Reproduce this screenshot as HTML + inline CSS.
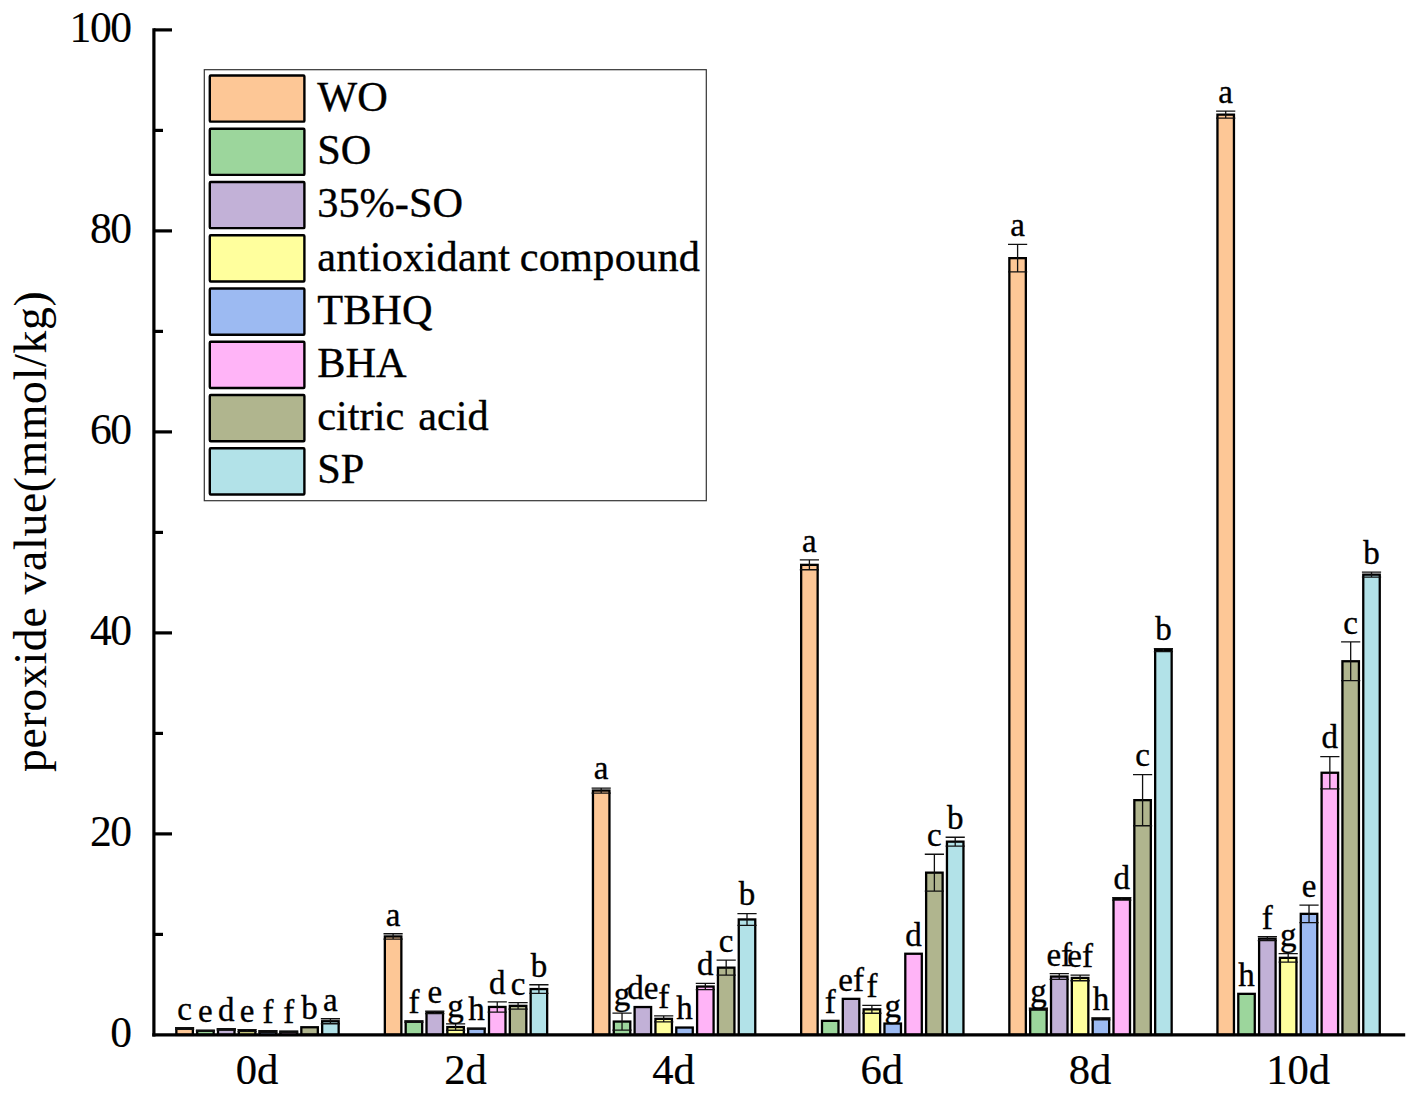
<!DOCTYPE html>
<html><head><meta charset="utf-8"><title>peroxide value</title>
<style>
html,body{margin:0;padding:0;background:#fff;}
body{width:1418px;height:1097px;overflow:hidden;}
svg{display:block;}
text{font-family:"Liberation Serif",serif;fill:#000;stroke:#000;stroke-width:0.35px;}
.yt text{stroke-width:0.12px;}
.xt text{stroke-width:0.2px;}
text.yl{stroke-width:0.1px;}
</style></head><body>
<svg width="1418" height="1097" viewBox="0 0 1418 1097">
<rect x="0" y="0" width="1418" height="1097" fill="#fff"/>
<g stroke="#000" stroke-width="2.3" stroke-linejoin="miter">
<rect x="176.35" y="1028.45" width="16.50" height="6.45" fill="#FDC796"/>
<rect x="197.18" y="1030.75" width="16.50" height="4.15" fill="#9CD69C"/>
<rect x="218.01" y="1029.45" width="16.50" height="5.45" fill="#C2B1D7"/>
<rect x="238.84" y="1030.65" width="16.50" height="4.25" fill="#FFFF9D"/>
<rect x="259.67" y="1031.55" width="16.50" height="3.35" fill="#9CBAF2"/>
<rect x="280.50" y="1031.85" width="16.50" height="3.05" fill="#FFB4F7"/>
<rect x="301.33" y="1027.25" width="16.50" height="7.65" fill="#B0B58E"/>
<rect x="322.16" y="1021.25" width="16.50" height="13.65" fill="#B2E2E8"/>
<rect x="384.85" y="936.45" width="16.50" height="98.45" fill="#FDC796"/>
<rect x="405.68" y="1021.65" width="16.50" height="13.25" fill="#9CD69C"/>
<rect x="426.51" y="1012.35" width="16.50" height="22.55" fill="#C2B1D7"/>
<rect x="447.34" y="1027.05" width="16.50" height="7.85" fill="#FFFF9D"/>
<rect x="468.17" y="1028.65" width="16.50" height="6.25" fill="#9CBAF2"/>
<rect x="489.00" y="1006.95" width="16.50" height="27.95" fill="#FFB4F7"/>
<rect x="509.83" y="1005.85" width="16.50" height="29.05" fill="#B0B58E"/>
<rect x="530.66" y="989.05" width="16.50" height="45.85" fill="#B2E2E8"/>
<rect x="592.95" y="790.55" width="16.50" height="244.35" fill="#FDC796"/>
<rect x="613.78" y="1021.55" width="16.50" height="13.35" fill="#9CD69C"/>
<rect x="634.61" y="1007.05" width="16.50" height="27.85" fill="#C2B1D7"/>
<rect x="655.44" y="1018.85" width="16.50" height="16.05" fill="#FFFF9D"/>
<rect x="676.27" y="1027.55" width="16.50" height="7.35" fill="#9CBAF2"/>
<rect x="697.10" y="986.55" width="16.50" height="48.35" fill="#FFB4F7"/>
<rect x="717.93" y="967.65" width="16.50" height="67.25" fill="#B0B58E"/>
<rect x="738.76" y="919.45" width="16.50" height="115.45" fill="#B2E2E8"/>
<rect x="801.15" y="564.85" width="16.50" height="470.05" fill="#FDC796"/>
<rect x="821.98" y="1020.85" width="16.50" height="14.05" fill="#9CD69C"/>
<rect x="842.81" y="998.85" width="16.50" height="36.05" fill="#C2B1D7"/>
<rect x="863.64" y="1009.35" width="16.50" height="25.55" fill="#FFFF9D"/>
<rect x="884.47" y="1023.55" width="16.50" height="11.35" fill="#9CBAF2"/>
<rect x="905.30" y="953.75" width="16.50" height="81.15" fill="#FFB4F7"/>
<rect x="926.13" y="872.65" width="16.50" height="162.25" fill="#B0B58E"/>
<rect x="946.96" y="841.65" width="16.50" height="193.25" fill="#B2E2E8"/>
<rect x="1009.35" y="258.15" width="16.50" height="776.75" fill="#FDC796"/>
<rect x="1030.18" y="1009.05" width="16.50" height="25.85" fill="#9CD69C"/>
<rect x="1051.01" y="976.55" width="16.50" height="58.35" fill="#C2B1D7"/>
<rect x="1071.84" y="977.95" width="16.50" height="56.95" fill="#FFFF9D"/>
<rect x="1092.67" y="1018.85" width="16.50" height="16.05" fill="#9CBAF2"/>
<rect x="1113.50" y="898.85" width="16.50" height="136.05" fill="#FFB4F7"/>
<rect x="1134.33" y="800.15" width="16.50" height="234.75" fill="#B0B58E"/>
<rect x="1155.16" y="650.05" width="16.50" height="384.85" fill="#B2E2E8"/>
<rect x="1217.45" y="114.65" width="16.50" height="920.25" fill="#FDC796"/>
<rect x="1238.28" y="993.85" width="16.50" height="41.05" fill="#9CD69C"/>
<rect x="1259.11" y="938.65" width="16.50" height="96.25" fill="#C2B1D7"/>
<rect x="1279.94" y="957.85" width="16.50" height="77.05" fill="#FFFF9D"/>
<rect x="1300.77" y="913.85" width="16.50" height="121.05" fill="#9CBAF2"/>
<rect x="1321.60" y="772.75" width="16.50" height="262.15" fill="#FFB4F7"/>
<rect x="1342.43" y="661.25" width="16.50" height="373.65" fill="#B0B58E"/>
<rect x="1363.26" y="574.65" width="16.50" height="460.25" fill="#B2E2E8"/>
</g>
<g stroke="#111" stroke-width="1.3" fill="none">
<path d="M175.00 1027.65H194.20M175.00 1029.25H194.20M184.60 1027.65V1029.25"/>
<path d="M195.83 1030.45H215.03M195.83 1031.05H215.03M205.43 1030.45V1031.05"/>
<path d="M216.66 1028.75H235.86M216.66 1030.15H235.86M226.26 1028.75V1030.15"/>
<path d="M237.49 1029.65H256.69M237.49 1031.65H256.69M247.09 1029.65V1031.65"/>
<path d="M258.32 1030.75H277.52M258.32 1032.35H277.52M267.92 1030.75V1032.35"/>
<path d="M279.15 1031.05H298.35M279.15 1032.65H298.35M288.75 1031.05V1032.65"/>
<path d="M320.81 1018.75H340.01M320.81 1023.75H340.01M330.41 1018.75V1023.75"/>
<path d="M383.50 933.75H402.70M383.50 939.15H402.70M393.10 933.75V939.15"/>
<path d="M404.33 1020.85H423.53M404.33 1022.45H423.53M413.93 1020.85V1022.45"/>
<path d="M425.16 1011.15H444.36M425.16 1013.55H444.36M434.76 1011.15V1013.55"/>
<path d="M445.99 1023.85H465.19M445.99 1030.25H465.19M455.59 1023.85V1030.25"/>
<path d="M466.82 1028.35H486.02M466.82 1028.95H486.02M476.42 1028.35V1028.95"/>
<path d="M487.65 1001.85H506.85M487.65 1012.05H506.85M497.25 1001.85V1012.05"/>
<path d="M508.48 1002.65H527.68M508.48 1009.05H527.68M518.08 1002.65V1009.05"/>
<path d="M529.31 984.75H548.51M529.31 993.35H548.51M538.91 984.75V993.35"/>
<path d="M591.60 788.05H610.80M591.60 793.05H610.80M601.20 788.05V793.05"/>
<path d="M612.43 1013.05H631.63M612.43 1030.05H631.63M622.03 1013.05V1030.05"/>
<path d="M654.09 1015.85H673.29M654.09 1021.85H673.29M663.69 1015.85V1021.85"/>
<path d="M695.75 983.45H714.95M695.75 989.65H714.95M705.35 983.45V989.65"/>
<path d="M716.58 960.15H735.78M716.58 975.15H735.78M726.18 960.15V975.15"/>
<path d="M737.41 913.55H756.61M737.41 925.35H756.61M747.01 913.55V925.35"/>
<path d="M799.80 559.95H819.00M799.80 569.75H819.00M809.40 559.95V569.75"/>
<path d="M862.29 1005.45H881.49M862.29 1013.25H881.49M871.89 1005.45V1013.25"/>
<path d="M924.78 854.25H943.98M924.78 891.05H943.98M934.38 854.25V891.05"/>
<path d="M945.61 837.25H964.81M945.61 846.05H964.81M955.21 837.25V846.05"/>
<path d="M1008.00 244.45H1027.20M1008.00 271.85H1027.20M1017.60 244.45V271.85"/>
<path d="M1028.83 1008.05H1048.03M1028.83 1010.05H1048.03M1038.43 1008.05V1010.05"/>
<path d="M1049.66 973.65H1068.86M1049.66 979.45H1068.86M1059.26 973.65V979.45"/>
<path d="M1070.49 975.15H1089.69M1070.49 980.75H1089.69M1080.09 975.15V980.75"/>
<path d="M1091.32 1017.85H1110.52M1091.32 1019.85H1110.52M1100.92 1017.85V1019.85"/>
<path d="M1112.15 897.55H1131.35M1112.15 900.15H1131.35M1121.75 897.55V900.15"/>
<path d="M1132.98 774.55H1152.18M1132.98 825.75H1152.18M1142.58 774.55V825.75"/>
<path d="M1153.81 648.55H1173.01M1153.81 651.55H1173.01M1163.41 648.55V651.55"/>
<path d="M1216.10 111.15H1235.30M1216.10 118.15H1235.30M1225.70 111.15V118.15"/>
<path d="M1257.76 936.65H1276.96M1257.76 940.65H1276.96M1267.36 936.65V940.65"/>
<path d="M1278.59 953.65H1297.79M1278.59 962.05H1297.79M1288.19 953.65V962.05"/>
<path d="M1299.42 905.15H1318.62M1299.42 922.55H1318.62M1309.02 905.15V922.55"/>
<path d="M1320.25 756.55H1339.45M1320.25 788.95H1339.45M1329.85 756.55V788.95"/>
<path d="M1341.08 641.85H1360.28M1341.08 680.65H1360.28M1350.68 641.85V680.65"/>
<path d="M1361.91 572.15H1381.11M1361.91 577.15H1381.11M1371.51 572.15V577.15"/>
</g>
<g font-size="33" text-anchor="middle">
<text x="184.60" y="1019.55">c</text>
<text x="205.43" y="1022.35">e</text>
<text x="226.26" y="1020.65">d</text>
<text x="247.09" y="1022.35">e</text>
<text x="267.92" y="1022.65">f</text>
<text x="288.75" y="1022.95">f</text>
<text x="309.58" y="1019.15">b</text>
<text x="330.41" y="1010.65">a</text>
<text x="393.10" y="925.65">a</text>
<text x="413.93" y="1012.75">f</text>
<text x="434.76" y="1003.05">e</text>
<text x="455.59" y="1017.35">g</text>
<text x="476.42" y="1020.25">h</text>
<text x="497.25" y="993.75">d</text>
<text x="518.08" y="994.55">c</text>
<text x="538.91" y="976.65">b</text>
<text x="601.20" y="779.45">a</text>
<text x="622.03" y="1004.95">g</text>
<text x="642.86" y="998.95">de</text>
<text x="663.69" y="1007.75">f</text>
<text x="684.52" y="1019.45">h</text>
<text x="705.35" y="975.35">d</text>
<text x="726.18" y="952.05">c</text>
<text x="747.01" y="905.45">b</text>
<text x="809.40" y="551.85">a</text>
<text x="830.23" y="1012.75">f</text>
<text x="851.06" y="990.75">ef</text>
<text x="871.89" y="997.35">f</text>
<text x="892.72" y="1016.65">g</text>
<text x="913.55" y="945.65">d</text>
<text x="934.38" y="846.15">c</text>
<text x="955.21" y="829.15">b</text>
<text x="1017.60" y="236.35">a</text>
<text x="1038.43" y="1001.75">g</text>
<text x="1059.26" y="965.55">ef</text>
<text x="1080.09" y="967.05">ef</text>
<text x="1100.92" y="1009.75">h</text>
<text x="1121.75" y="889.45">d</text>
<text x="1142.58" y="766.45">c</text>
<text x="1163.41" y="640.45">b</text>
<text x="1225.70" y="103.05">a</text>
<text x="1246.53" y="985.75">h</text>
<text x="1267.36" y="928.55">f</text>
<text x="1288.19" y="945.55">g</text>
<text x="1309.02" y="897.05">e</text>
<text x="1329.85" y="748.45">d</text>
<text x="1350.68" y="633.75">c</text>
<text x="1371.51" y="564.05">b</text>
</g>
<g stroke="#000" stroke-width="3.2" fill="none">
<path d="M153.9 28.2V1036.50"/>
<path d="M152.3 1034.90H1405.2"/>
<path d="M153.9 934.40H163.0"/>
<path d="M153.9 833.90H172.0"/>
<path d="M153.9 733.40H163.0"/>
<path d="M153.9 632.90H172.0"/>
<path d="M153.9 532.40H163.0"/>
<path d="M153.9 431.90H172.0"/>
<path d="M153.9 331.40H163.0"/>
<path d="M153.9 230.90H172.0"/>
<path d="M153.9 130.40H163.0"/>
<path d="M153.9 29.90H172.0"/>
</g>
<g font-size="43.6" text-anchor="end" letter-spacing="-1.5" class="yt">
<text x="130.5" y="1046.50">0</text>
<text x="130.5" y="845.50">20</text>
<text x="130.5" y="644.50">40</text>
<text x="130.5" y="443.50">60</text>
<text x="130.5" y="242.50">80</text>
<text x="130.5" y="41.50">100</text>
</g>
<g font-size="42.6" text-anchor="middle" class="xt">
<text x="257.00" y="1084">0d</text>
<text x="465.50" y="1084">2d</text>
<text x="673.61" y="1084">4d</text>
<text x="881.81" y="1084">6d</text>
<text x="1090.00" y="1084">8d</text>
<text x="1298.11" y="1084">10d</text>
</g>
<text class="yl" font-size="45.5" letter-spacing="0.77" text-anchor="middle" transform="translate(46.2 531.3) rotate(-90)">peroxide value(mmol/kg)</text>
<rect x="204.3" y="69.7" width="502" height="431" fill="#fff" stroke="#333" stroke-width="1.2"/>
<g stroke="#000" stroke-width="2.4">
<rect x="209.8" y="75.45" width="94.6" height="46.2" rx="1" ry="1" fill="#FDC796"/>
<rect x="209.8" y="128.71" width="94.6" height="46.2" rx="1" ry="1" fill="#9CD69C"/>
<rect x="209.8" y="181.97" width="94.6" height="46.2" rx="1" ry="1" fill="#C2B1D7"/>
<rect x="209.8" y="235.23" width="94.6" height="46.2" rx="1" ry="1" fill="#FFFF9D"/>
<rect x="209.8" y="288.49" width="94.6" height="46.2" rx="1" ry="1" fill="#9CBAF2"/>
<rect x="209.8" y="341.75" width="94.6" height="46.2" rx="1" ry="1" fill="#FFB4F7"/>
<rect x="209.8" y="395.01" width="94.6" height="46.2" rx="1" ry="1" fill="#B0B58E"/>
<rect x="209.8" y="448.27" width="94.6" height="46.2" rx="1" ry="1" fill="#B2E2E8"/>
</g>
<g font-size="42.3" word-spacing="3.5">
<text x="317.3" y="110.90">WO</text>
<text x="317.3" y="164.10">SO</text>
<text x="317.3" y="217.30">35%-SO</text>
<text x="317.3" y="270.50" letter-spacing="0.25" word-spacing="-1.5">antioxidant compound</text>
<text x="317.3" y="323.70">TBHQ</text>
<text x="317.3" y="376.90">BHA</text>
<text x="317.3" y="430.10">citric acid</text>
<text x="317.3" y="483.30">SP</text>
</g>
</svg>
</body></html>
